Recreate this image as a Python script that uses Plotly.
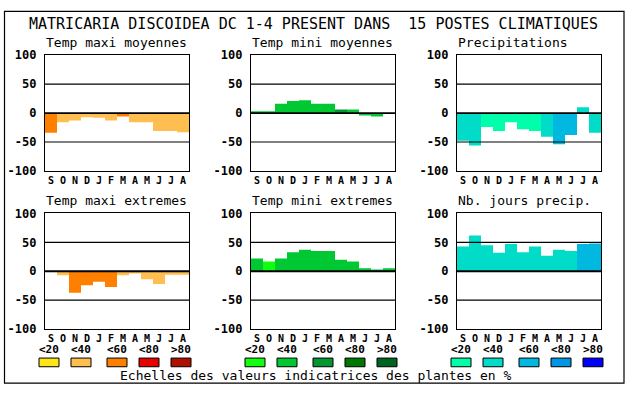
import plotly.graph_objects as go

W, H = 630, 394

mois = ["S", "O", "N", "D", "J", "F", "M", "A", "M", "J", "J", "A"]
titres = ["Temp maxi moyennes", "Temp mini moyennes", "Precipitations",
          "Temp maxi extremes", "Temp mini extremes", "Nb. jours precip."]
titre = "MATRICARIA DISCOIDEA DC 1-4 PRESENT DANS  15 POSTES CLIMATIQUES"
classes_lbl = ["<20", "<40", "<60", "<80", ">80"]
yticks = [-100, -50, 0, 50, 100]

# values (% deviation) and indicator class (1..5) per month
tmax_moy = [-34, -16, -13, -7, -8, -13, -6, -16, -16, -31, -31, -33]
tmax_moy_cl = [3, 2, 2, 2, 2, 2, 3, 2, 2, 2, 2, 2]
tmin_moy = [2, 3, 16, 21, 22, 16, 16, 6, 6, -4, -6, 0]
tmin_moy_cl = [2, 2, 2, 2, 2, 2, 2, 3, 2, 2, 2, 2]
precip = [-48, -56, -24, -31, -16, -28, -31, -41, -54, -38, 10, -34]
precip_cl = [2, 2, 1, 1, 1, 1, 1, 2, 3, 3, 2, 2]
tmax_ext = [0, -7, -37, -24, -18, -27, -7, -4, -14, -22, -6, -6]
tmax_ext_cl = [2, 2, 3, 3, 3, 3, 2, 2, 2, 2, 2, 2]
tmin_ext = [22, 17, 22, 33, 37, 35, 35, 20, 17, 5, 3, 5]
tmin_ext_cl = [2, 1, 2, 2, 2, 2, 2, 2, 2, 2, 2, 2]
nbj = [43, 62, 45, 32, 47, 33, 43, 27, 37, 35, 47, 48]
nbj_cl = [2, 2, 2, 2, 2, 2, 2, 2, 2, 2, 3, 3]

pal_orange = ["#FFE418", "#FFBE50", "#FF8000", "#E80000", "#B01000"]
pal_vert = ["#10FF10", "#00C832", "#009632", "#007800", "#006420"]
pal_bleu = ["#00FFAA", "#00DCC8", "#00B8E0", "#0096E6", "#0000FF"]

series = [(tmax_moy, tmax_moy_cl, pal_orange), (tmin_moy, tmin_moy_cl, pal_vert),
          (precip, precip_cl, pal_bleu), (tmax_ext, tmax_ext_cl, pal_orange),
          (tmin_ext, tmin_ext_cl, pal_vert), (nbj, nbj_cl, pal_bleu)]

MONO = "DejaVu Sans Mono"
colx = [(45, 189), (251, 395), (457, 601)]
rowy = [(50, 170), (214, 334)]


def px(x):
    return x / W


def py(y):
    return 1 - y / H


fig = go.Figure()
layout = {}
annotations = []
shapes = []

for i, (vals, cl, pal) in enumerate(series):
    r, c = divmod(i, 3)
    k = "" if i == 0 else str(i + 1)
    fig.add_trace(go.Bar(
        x=list(range(12)), y=vals, width=1,
        marker=dict(color=[pal[v - 1] for v in cl], line=dict(width=0)),
        xaxis="x" + k, yaxis="y" + k, showlegend=False, hoverinfo="y"))
    x0, x1 = colx[c]
    y0, y1 = rowy[r]
    layout["xaxis" + k] = dict(
        domain=[px(x0), px(x1)], range=[-0.5, 11.5], anchor="y" + k,
        tickvals=list(range(12)), ticktext=mois, showgrid=False, zeroline=False,
        showline=True, mirror=True, linecolor="black", linewidth=1.2, ticks="",
        tickfont=dict(family=MONO, size=10, color="black", weight="bold"),
        fixedrange=True)
    layout["yaxis" + k] = dict(
        domain=[py(y1), py(y0)], range=[-100, 100], anchor="x" + k,
        tickvals=yticks, ticktext=[str(v) for v in yticks], showgrid=False,
        zeroline=False, showline=True, mirror=True, linecolor="black",
        linewidth=1.2, ticks="", ticklabelstandoff=5,
        tickfont=dict(family=MONO, size=12, color="black", weight="bold"),
        fixedrange=True)
    for yv, lw in [(50, 1.2), (0, 1.8), (-50, 1.2)]:
        shapes.append(dict(type="line", xref=("x" + k) + " domain", yref="y" + k,
                           x0=0, x1=1, y0=yv, y1=yv, layer="above",
                           line=dict(color="black", width=lw)))
    annotations.append(dict(text=titres[i], xref="paper", yref="paper",
                            x=px(x0 - 1), y=py(y0 - 13), xanchor="left",
                            yanchor="middle", showarrow=False,
                            font=dict(family=MONO, size=13, color="black")))

# title
annotations.append(dict(text=titre, xref="paper", yref="paper", x=px(313), y=py(18),
                        xanchor="center", yanchor="middle", showarrow=False,
                        font=dict(family=MONO, size=15, color="black")))
# legend scales
centres = [49, 81, 117, 149, 181]
for g, pal in enumerate([pal_orange, pal_vert, pal_bleu]):
    for j in range(5):
        cx = centres[j] + 206 * g
        shapes.append(dict(type="rect", xref="paper", yref="paper",
                           x0=px(cx - 10), x1=px(cx + 10), y0=py(373), y1=py(364),
                           fillcolor=pal[j], line=dict(color="black", width=1)))
        annotations.append(dict(text=classes_lbl[j], xref="paper", yref="paper",
                                x=px(cx), y=py(355.5), xanchor="center",
                                yanchor="middle", showarrow=False,
                                font=dict(family=MONO, size=11, color="black",
                                          weight="bold")))
annotations.append(dict(text="Echelles des valeurs indicatrices des plantes en %",
                        xref="paper", yref="paper", x=px(316), y=py(382),
                        xanchor="center", yanchor="middle", showarrow=False,
                        font=dict(family=MONO, size=13, color="black")))
# outer frame
shapes.append(dict(type="rect", xref="paper", yref="paper", x0=px(4.5), x1=px(624),
                   y0=py(390), y1=py(4.5), line=dict(color="black", width=1.2)))

fig.update_layout(width=W, height=H, margin=dict(l=0, r=0, t=0, b=0),
                  paper_bgcolor="white", plot_bgcolor="white",
                  annotations=annotations, shapes=shapes, **layout)

fig.write_html("out.html", config={"displayModeBar": False},
               post_script="document.body.style.margin='0';"
                           "document.body.style.overflow='hidden';")
